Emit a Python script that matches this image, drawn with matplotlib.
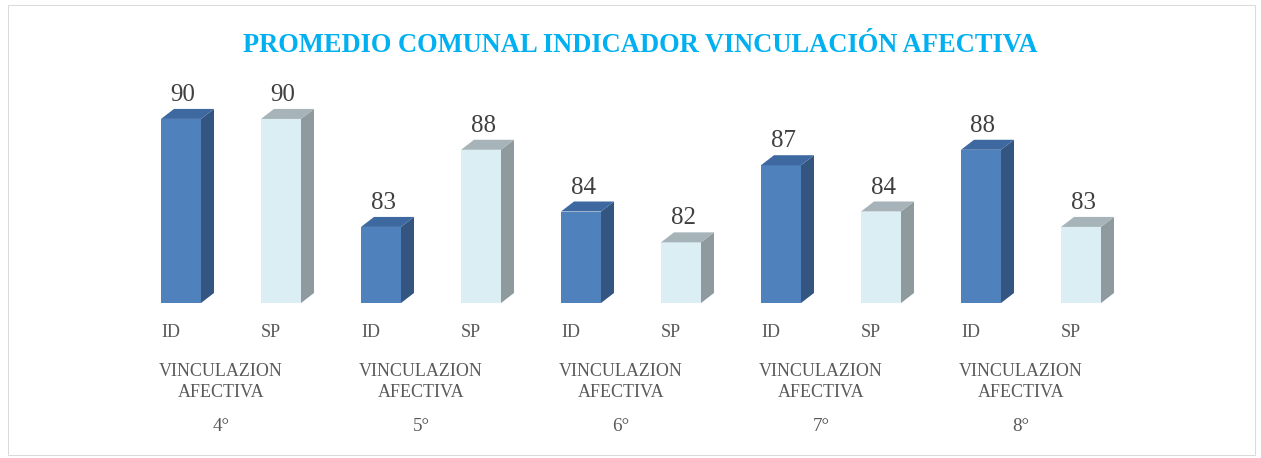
import matplotlib
matplotlib.use("Agg")
import matplotlib.pyplot as plt
from matplotlib.patches import Polygon, Rectangle

grades = ["4°", "5°", "6°", "7°", "8°"]
series = ["ID", "SP"]
id_values = [90, 83, 84, 87, 88]
sp_values = [90, 88, 82, 84, 83]
group_label = "VINCULAZION\nAFECTIVA"
title = "PROMEDIO COMUNAL INDICADOR VINCULACIÓN AFECTIVA"

label_font = "Liberation Serif"

# colours: front, side, top
styles = {
    "ID": ("#4F81BD", "#34557F", "#3E69A0"),
    "SP": ("#DBEEF4", "#8E9A9E", "#A6B4B9"),
}

W, H = 1261, 458
DPI = 72
fig = plt.figure(figsize=(W / DPI, H / DPI), dpi=DPI)

# axes placed in pixels: slots 200 px per grade, baseline at y=303
ymin = 78.07
px_per_unit = 15.43
ax_left, ax_right = 121, 1121
ax_base, ax_top = 303, 60
ax = fig.add_axes([ax_left / W, (H - ax_base) / H, (ax_right - ax_left) / W, (ax_base - ax_top) / H])
ax.set_xlim(0, 10)
ax.set_ylim(ymin, ymin + (ax_base - ax_top) / px_per_unit)
ax.axis("off")

bar_w = 0.4
dx = 0.13                  # depth to the right (x units)
dy = 10 / px_per_unit      # depth upwards (value units)

for g, grade in enumerate(grades):
    for s, name in enumerate(series):
        val = (id_values if name == "ID" else sp_values)[g]
        front, side, top = styles[name]
        x0 = 2 * g + s + 0.4
        x1 = x0 + bar_w
        ax.add_patch(Polygon([(x0, ymin), (x1, ymin), (x1, val), (x0, val)], closed=True,
                             facecolor=front, edgecolor="none", clip_on=False))
        ax.add_patch(Polygon([(x1, ymin), (x1 + dx, ymin + dy), (x1 + dx, val + dy), (x1, val)],
                             closed=True, facecolor=side, edgecolor="none", clip_on=False))
        ax.add_patch(Polygon([(x0, val), (x1, val), (x1 + dx, val + dy), (x0 + dx, val + dy)],
                             closed=True, facecolor=top, edgecolor="none", clip_on=False))
        ax.annotate(str(val), xy=(x0 + bar_w / 2 + 0.02, val + dy), xytext=(0, 3),
                    textcoords="offset points", ha="center", va="bottom",
                    fontsize=25, color="#404040", family=label_font)
        ax.annotate(name, xy=(2 * g + s + 0.5, ymin), xytext=(0, -30),
                    textcoords="offset points", ha="center", va="center",
                    fontsize=18, color="#595959", family=label_font)
    ax.annotate(group_label, xy=(2 * g + 1.0, ymin), xytext=(0, -79),
                textcoords="offset points", ha="center", va="center",
                fontsize=18, color="#595959", family=label_font, linespacing=1.25)
    ax.annotate(grade, xy=(2 * g + 1.0, ymin), xytext=(0, -124),
                textcoords="offset points", ha="center", va="center",
                fontsize=19, color="#595959", family=label_font)

fig.text(640 / W, 1 - 45 / H, title, ha="center", va="center", fontsize=26.5,
         fontweight="bold", color="#00B0F0", family=label_font)

fig.patches.append(Rectangle((8 / W, 1 - 455 / H), 1247 / W, 450 / H, transform=fig.transFigure,
                             fill=False, edgecolor="#D9D9D9", linewidth=1))

fig.savefig("out.png", dpi=DPI)
